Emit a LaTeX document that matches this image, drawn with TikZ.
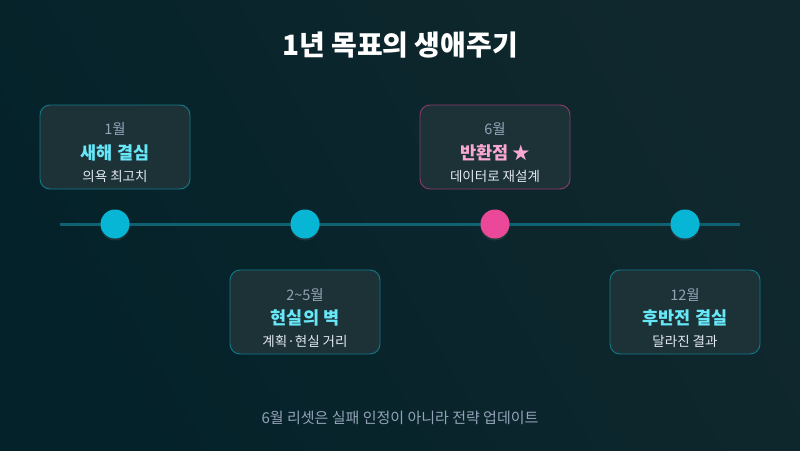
\documentclass[tikz,border=0pt]{standalone}
\usepackage{fontspec}
\setmainfont{Noto Sans CJK KR}
\usetikzlibrary{shadows}

\definecolor{bgA}{HTML}{10282D}
\definecolor{bgB}{HTML}{04222A}
\definecolor{lineC}{HTML}{0E6272}
\definecolor{dotC}{HTML}{06B6D4}
\definecolor{dotP}{HTML}{EC4899}
\definecolor{boxF}{HTML}{1D3237}
\definecolor{boxE}{HTML}{13798A}
\definecolor{boxEP}{HTML}{8E3A6C}
\definecolor{monthC}{HTML}{94A3B8}
\definecolor{headC}{HTML}{67E8F9}
\definecolor{headP}{HTML}{F9A8D4}
\definecolor{subC}{HTML}{E2E8F0}

\begin{document}
\begin{tikzpicture}[
  x=1pt, y=-1pt,
  card/.style={rectangle, rounded corners=10pt, fill=boxF, draw=boxE, line width=0.9pt, minimum width=150pt, minimum height=84pt},
  pcard/.style={card, draw=boxEP},
  tdot/.style={circle, fill=dotC, minimum size=29pt, inner sep=0pt, drop shadow={opacity=0.2, shadow xshift=0pt, shadow yshift=-2pt}},
  pdot/.style={tdot, fill=dotP},
  month/.style={text=monthC, font=\fontsize{14.5}{17}\selectfont},
  head/.style={text=headC, font=\fontsize{17.5}{20}\selectfont\bfseries},
  sub/.style={text=subC, font=\fontsize{13.5}{16}\selectfont},
  axis/.style={line width=3pt, draw=lineC}
]

  % --- Fondo ---
  \shade[left color=bgA, right color=bgB, shading angle=-60] (0,0) rectangle (800,450);
  \useasboundingbox (0,0) rectangle (800,450);

  % --- Título ---
  \node[text=white, font=\fontsize{28}{32}\selectfont\bfseries] (title) at (400,45) {1년 목표의 생애주기};

  % --- Línea de tiempo ---
  \coordinate (ls) at (60,224);
  \coordinate (le) at (740,224);
  \draw[axis] (ls) -- (le);

  \node[tdot] (d1) at (115,224) {};
  \node[tdot] (d2) at (305,224) {};
  \node[pdot] (d3) at (495,224) {};
  \node[tdot] (d4) at (685,224) {};

  % --- Tarjetas ---
  \node[card] (c1) at (115,147) {};
  \node[month] (m1) at (115,129) {1월};
  \node[head] (h1) at (115,153) {새해 결심};
  \node[sub] (s1) at (115,176) {의욕 최고치};

  \node[card] (c2) at (305,312) {};
  \node[month] (m2) at (305,295) {2\char`\~5월};
  \node[head] (h2) at (305,318) {현실의 벽};
  \node[sub] (s2) at (305,341) {계획·현실 거리};

  \node[pcard] (c3) at (495,147) {};
  \node[month] (m3) at (495,129) {6월};
  \node[head, text=headP] (h3) at (495,153) {반환점 ★};
  \node[sub] (s3) at (495,176) {데이터로 재설계};

  \node[card] (c4) at (685,312) {};
  \node[month] (m4) at (685,295) {12월};
  \node[head] (h4) at (685,318) {후반전 결실};
  \node[sub] (s4) at (685,341) {달라진 결과};

  % --- Nota ---
  \node[text=monthC, font=\fontsize{15}{18}\selectfont] (note) at (400,418) {6월 리셋은 실패 인정이 아니라 전략 업데이트};

\end{tikzpicture}
\end{document}
